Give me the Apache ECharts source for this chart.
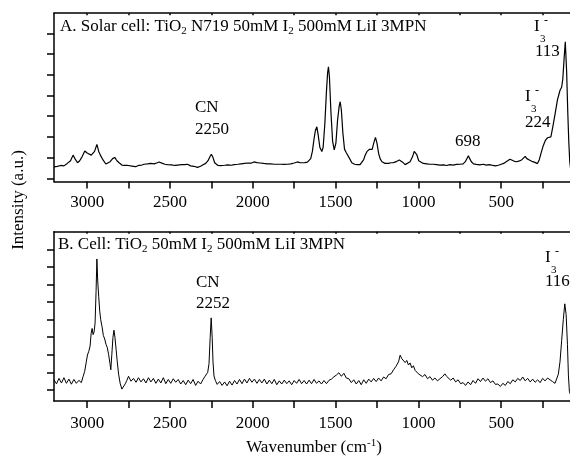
<!DOCTYPE html>
<html><head><meta charset="utf-8">
<script src="https://cdn.jsdelivr.net/npm/echarts@6/dist/echarts.min.js"></script>
<style>html,body{margin:0;padding:0;background:#fff;overflow:hidden;width:570px;height:461px}#c{width:600px;height:461px}</style>
</head><body><div id="c"></div>
<script>
// Panel A: Solar cell spectrum (wavenumber, intensity in tick units)
const wnA = [3200,3180,3160,3140,3120,3100,3085,3070,3058,3045,3030,3014,3000,2988,2975,2965,2955,2941,2930,2920,2905,2887,2875,2861,2846,2833,2820,2807,2790,2777,2760,2737,2720,2707,2690,2670,2656,2635,2616,2595,2580,2566,2545,2530,2516,2490,2470,2455,2430,2410,2395,2375,2355,2334,2315,2300,2284,2270,2258,2250,2240,2230,2224,2210,2194,2170,2150,2130,2113,2090,2070,2050,2030,2010,1993,1975,1955,1935,1912,1892,1870,1850,1830,1810,1791,1770,1750,1731,1715,1700,1685,1670,1660,1650,1640,1630,1622,1613,1605,1595,1583,1575,1565,1555,1548,1543,1537,1528,1518,1508,1498,1488,1478,1472,1465,1456,1446,1436,1428,1415,1402,1385,1370,1352,1340,1330,1322,1310,1295,1287,1279,1268,1259,1250,1240,1231,1220,1201,1180,1165,1150,1130,1115,1106,1095,1080,1068,1050,1035,1025,1019,1010,998,989,970,949,930,910,890,870,848,830,810,790,770,748,730,715,705,698,690,680,667,650,630,607,590,570,550,535,517,500,485,470,458,447,435,420,406,390,375,365,355,345,330,315,300,290,281,270,258,245,232,220,210,200,188,174,160,150,144,135,128,120,113,105,98,92,86,80,70,60];
const intA = [0.55,0.58,0.62,0.60,0.72,0.85,1.12,0.90,0.75,0.85,1.05,1.32,1.22,1.17,1.12,1.15,1.30,1.64,1.30,1.12,0.90,0.69,0.70,0.80,0.95,1.01,0.85,0.75,0.64,0.62,0.63,0.60,0.58,0.56,0.62,0.64,0.68,0.70,0.72,0.70,0.74,0.79,0.72,0.68,0.66,0.65,0.62,0.64,0.66,0.66,0.68,0.60,0.58,0.53,0.58,0.65,0.72,0.85,1.05,1.16,1.00,0.75,0.66,0.62,0.61,0.63,0.65,0.63,0.66,0.68,0.70,0.72,0.74,0.73,0.79,0.76,0.74,0.72,0.70,0.70,0.68,0.68,0.68,0.67,0.68,0.70,0.74,0.79,0.76,0.75,0.76,0.78,0.85,0.95,1.3,1.9,2.3,2.49,2.1,1.5,1.29,1.5,2.6,4.2,5.1,5.39,4.9,3.2,1.8,1.37,1.7,2.8,3.5,3.70,3.3,2.2,1.41,1.25,1.20,0.95,0.75,0.68,0.66,0.66,0.72,0.90,1.1,1.30,1.40,1.35,1.40,1.75,1.98,1.70,1.20,0.95,0.80,0.72,0.72,0.75,0.76,0.82,0.88,0.90,0.78,0.66,0.70,0.80,1.05,1.30,1.37,1.15,0.85,0.78,0.72,0.70,0.68,0.68,0.66,0.64,0.65,0.62,0.66,0.64,0.67,0.68,0.70,0.82,0.98,1.09,0.95,0.80,0.70,0.67,0.65,0.68,0.64,0.66,0.62,0.60,0.63,0.68,0.72,0.80,0.88,0.92,0.85,0.82,0.80,0.84,0.90,0.98,1.06,0.95,0.88,0.82,0.78,0.74,0.71,0.90,1.25,1.60,1.85,1.96,1.90,2.0,2.5,3.14,3.8,4.1,4.27,4.4,4.8,5.8,6.6,5.2,3.2,1.8,0.8,0.4,0.3,0.35];

// Panel B: Cell without dye
const wnB = [3200,3185,3170,3155,3140,3125,3110,3095,3080,3065,3050,3035,3025,3015,3005,2998,2990,2982,2976,2970,2964,2958,2952,2946,2941,2936,2930,2924,2918,2910,2902,2894,2886,2878,2870,2862,2857,2851,2844,2838,2832,2825,2818,2810,2800,2790,2780,2770,2760,2750,2735,2720,2705,2690,2675,2660,2645,2630,2615,2600,2585,2570,2555,2540,2525,2510,2495,2480,2465,2450,2435,2420,2405,2390,2375,2360,2345,2330,2315,2300,2290,2280,2272,2264,2257,2251,2245,2240,2234,2226,2215,2200,2185,2170,2155,2140,2125,2110,2095,2080,2065,2050,2035,2020,2005,1990,1975,1960,1945,1930,1915,1900,1885,1870,1855,1840,1825,1810,1795,1780,1765,1750,1735,1720,1705,1690,1675,1660,1645,1630,1615,1600,1585,1570,1555,1540,1525,1510,1495,1480,1465,1450,1435,1420,1405,1390,1375,1360,1345,1330,1315,1300,1285,1270,1255,1240,1225,1210,1195,1180,1165,1150,1135,1120,1110,1100,1090,1080,1070,1060,1050,1040,1030,1020,1010,1000,990,975,960,945,930,915,900,885,870,855,840,830,820,805,790,775,760,745,730,715,700,685,670,655,640,625,610,595,580,565,550,535,520,505,490,475,460,445,430,415,400,385,370,355,340,325,310,295,280,265,250,235,220,205,190,175,165,155,145,135,125,116,108,100,94,88,80,70,60];
const intB = [0.58,0.35,0.66,0.40,0.70,0.38,0.62,0.33,0.60,0.38,0.55,0.42,0.75,1.05,1.6,1.99,2.2,2.5,3.2,3.5,3.15,3.3,3.8,5.6,7.45,6.2,5.3,4.5,4.0,3.6,3.1,2.9,2.6,2.4,2.0,1.5,1.15,2.0,3.0,3.4,3.0,2.3,1.6,0.9,0.35,0.05,0.1,0.35,0.55,0.78,0.50,0.66,0.44,0.70,0.46,0.64,0.40,0.70,0.46,0.66,0.38,0.62,0.40,0.70,0.36,0.60,0.38,0.64,0.44,0.60,0.34,0.54,0.30,0.56,0.36,0.60,0.26,0.50,0.34,0.60,0.75,0.85,1.0,1.5,3.0,4.1,3.0,1.6,0.8,0.55,0.32,0.48,0.26,0.46,0.24,0.50,0.28,0.54,0.34,0.60,0.36,0.62,0.40,0.66,0.44,0.62,0.38,0.60,0.40,0.62,0.34,0.56,0.36,0.60,0.30,0.52,0.34,0.56,0.36,0.52,0.30,0.54,0.38,0.60,0.36,0.54,0.34,0.56,0.36,0.60,0.38,0.52,0.34,0.54,0.36,0.55,0.62,0.75,0.85,0.98,0.78,0.95,0.68,0.64,0.42,0.58,0.34,0.54,0.30,0.58,0.38,0.62,0.46,0.66,0.48,0.68,0.52,0.74,0.64,0.88,0.92,1.15,1.35,1.60,1.98,1.78,1.88,1.56,1.68,1.42,1.54,1.26,1.38,1.12,1.14,0.92,1.02,0.76,0.88,0.64,0.76,0.56,0.68,0.52,0.64,0.75,0.92,0.78,0.80,0.56,0.68,0.46,0.58,0.36,0.42,0.26,0.46,0.30,0.54,0.38,0.64,0.48,0.68,0.50,0.64,0.42,0.52,0.32,0.34,0.20,0.38,0.26,0.48,0.36,0.58,0.46,0.66,0.54,0.74,0.52,0.66,0.46,0.62,0.44,0.58,0.42,0.66,0.52,0.68,0.58,0.48,0.38,0.45,0.90,1.6,2.8,4.0,4.9,4.3,2.6,0.8,-0.1,-0.3,-0.2,0.1];

const xTickVals = [250,500,750,1000,1250,1500,1750,2000,2250,2500,2750,3000];
const xLabelVals = [500,1000,1500,2000,2500,3000];
const yTickValsA = [0,1,2,3,4,5,6,7];
const yTickValsB = [0,1,2,3,4,5,6,7,8];

const FONT = '"Liberation Serif","Times New Roman",serif';
const BLACK = '#000';

const chart = echarts.init(document.getElementById('c'), null, {renderer:'canvas'});

function xBottom(g, margin){
  return {type:'value', gridIndex:g, min:0, max:3200, inverse:true, position:'bottom',
    axisLine:{show:true,onZero:false,lineStyle:{color:BLACK,width:1.5}},
    axisTick:{show:true,inside:false,length:7,customValues:xTickVals,lineStyle:{color:BLACK,width:1.5}},
    axisLabel:{show:true,customValues:xLabelVals,margin:margin,fontFamily:FONT,fontSize:17,color:BLACK,formatter:v=>String(v)},
    splitLine:{show:false}};
}
function xTop(g){
  return {type:'value', gridIndex:g, min:0, max:3200, inverse:true, position:'top',
    axisLine:{show:true,onZero:false,lineStyle:{color:BLACK,width:1.5}},
    axisTick:{show:true,inside:true,length:2,customValues:xTickVals,lineStyle:{color:BLACK,width:1.5}},
    axisLabel:{show:false}, splitLine:{show:false}};
}
function yLeft(g, mn, mx, ticks){
  return {type:'value', gridIndex:g, min:mn, max:mx, position:'left',
    axisLine:{show:true,onZero:false,lineStyle:{color:BLACK,width:1.5}},
    axisTick:{show:true,inside:false,length:7,customValues:ticks,lineStyle:{color:BLACK,width:1.5}},
    axisLabel:{show:false}, splitLine:{show:false}};
}
function yRight(g, mn, mx){
  return {type:'value', gridIndex:g, min:mn, max:mx, position:'right',
    axisLine:{show:true,onZero:false,lineStyle:{color:BLACK,width:1.5}},
    axisTick:{show:false}, axisLabel:{show:false}, splitLine:{show:false}};
}

const rich = {
  t:{fontFamily:FONT,fontSize:17,color:BLACK,lineHeight:20,verticalAlign:'middle'},
  s:{fontFamily:FONT,fontSize:11,color:BLACK,lineHeight:11,verticalAlign:'bottom'}
};
function txt(x,y,text,opts){
  return Object.assign({type:'text', x:x, y:y, style:{text:text, fontFamily:FONT, fontSize:17, fill:BLACK, textVerticalAlign:'middle', textAlign:'left'}}, opts||{});
}
function richTxt(x,y,text){
  return {type:'text', x:x, y:y, style:{text:text, rich:rich, textVerticalAlign:'middle', textAlign:'left', fill:BLACK}};
}
function i3(x,y){
  return [
    txt(x,y,'I'),
    {type:'text', x:x+6, y:y+12, style:{text:'3', fontFamily:FONT, fontSize:11, fill:BLACK, textVerticalAlign:'middle'}},
    {type:'text', x:x+10, y:y-6, style:{text:'-', fontFamily:FONT, fontSize:12, fill:BLACK, textVerticalAlign:'middle'}}
  ];
}

const option = {
  backgroundColor:'#fff',
  animation:false,
  grid:[
    {left:54, top:13.2, width:530, height:168.3, containLabel:false},
    {left:54, top:231.7, width:530, height:169.3, containLabel:false}
  ],
  xAxis:[xBottom(0,13), xTop(0), xBottom(1,14), xTop(1)],
  yAxis:[yLeft(0,-0.155,7.98,yTickValsA), yRight(0,-0.155,7.98), yLeft(1,-0.625,9,yTickValsB), yRight(1,-0.625,9)],
  series:[
    {type:'line', xAxisIndex:0, yAxisIndex:0, data:wnA.map((w,i)=>[w,intA[i]]), showSymbol:false, symbol:'none', smooth:false,
     lineStyle:{color:BLACK,width:1.2}, clip:true},
    {type:'line', xAxisIndex:2, yAxisIndex:2, data:wnB.map((w,i)=>[w,intB[i]]), showSymbol:false, symbol:'none', smooth:false,
     lineStyle:{color:BLACK,width:1}, clip:true}
  ],
  graphic:[
    richTxt(60,27,'{t|A. Solar cell: TiO}{s|2}{t| N719 50mM I}{s|2}{t| 500mM LiI 3MPN}'),
    richTxt(58,245,'{t|B. Cell: TiO}{s|2}{t| 50mM I}{s|2}{t| 500mM LiI 3MPN}'),
    txt(195,108,'CN'), txt(195,130,'2250'),
    txt(455,142,'698'),
    ...i3(534,27), txt(535,52,'113'),
    ...i3(525,97), txt(525,123,'224'),
    txt(196,283,'CN'), txt(196,304,'2252'),
    ...i3(545,258), txt(545,282,'116'),
    {type:'text', x:19, y:200, rotation:Math.PI/2, style:{text:'Intensity (a.u.)', fontFamily:FONT, fontSize:17, fill:BLACK, textAlign:'center', textVerticalAlign:'middle'}},
    {type:'text', x:314, y:448, style:{text:'{t|Wavenumber (cm}{p|-1}{t|)}', rich:{t:{fontFamily:FONT,fontSize:17,color:BLACK,lineHeight:20,verticalAlign:'middle'},p:{fontFamily:FONT,fontSize:11,color:BLACK,lineHeight:11,verticalAlign:'top'}}, textAlign:'center', textVerticalAlign:'middle'}}
  ]
};
chart.setOption(option);
</script></body></html>
